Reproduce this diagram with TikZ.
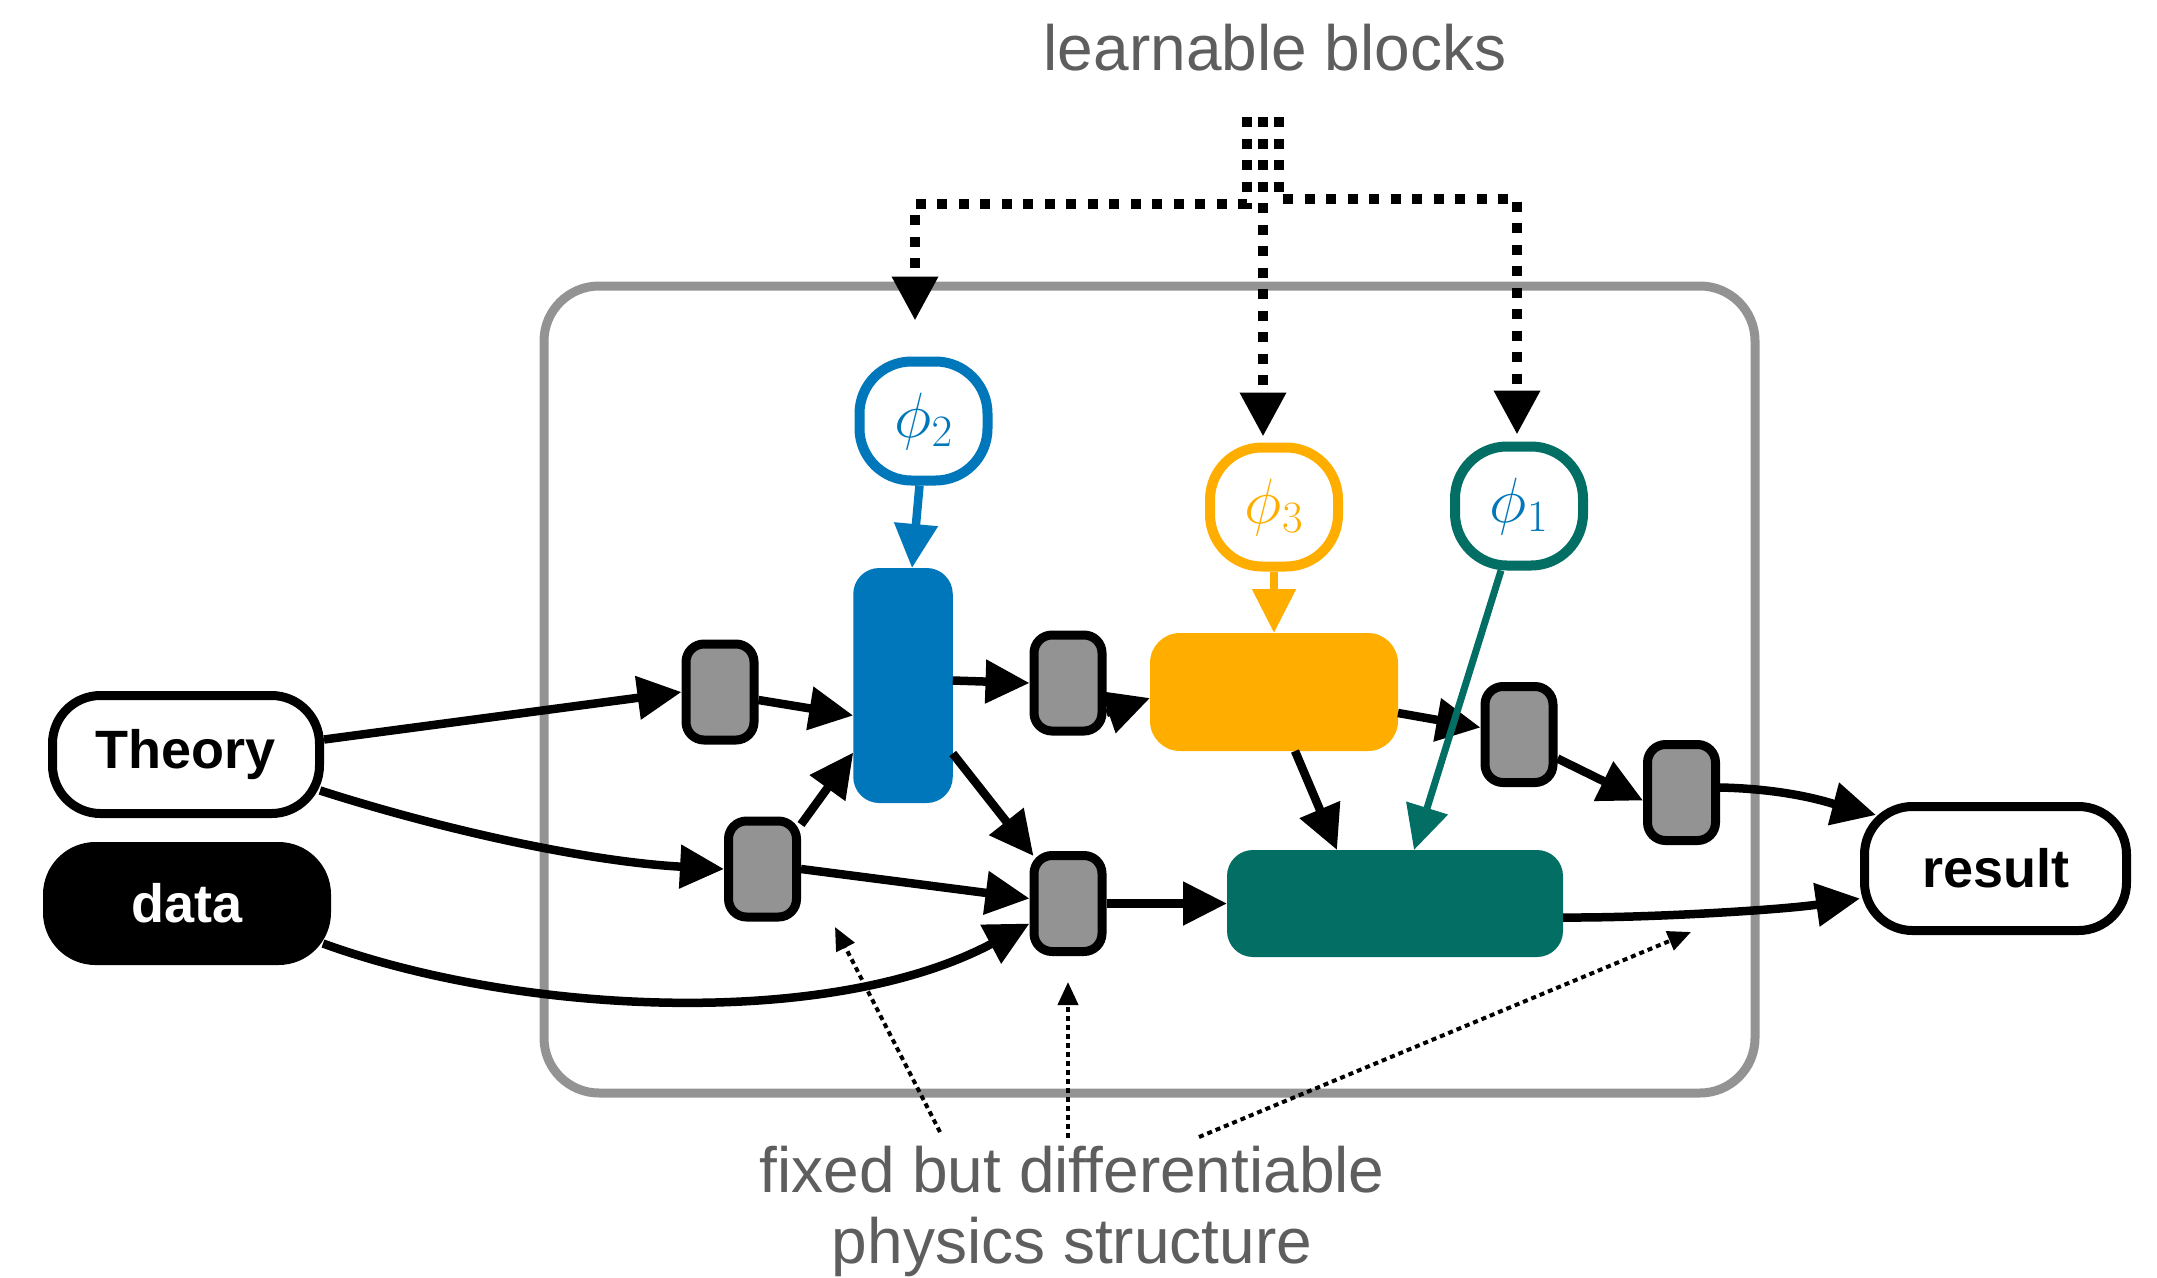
\documentclass[tikz,border=0pt]{standalone}
\usepackage{fix-cm}
\usepackage[no-math]{fontspec}
\setmainfont{Liberation Sans}
\usetikzlibrary{arrows.meta,calc}
\definecolor{phiblue}{HTML}{0077BB}
\definecolor{phiorange}{HTML}{FFAE00}
\definecolor{phiteal}{HTML}{036E64}
\definecolor{boxgray}{HTML}{939393}
\definecolor{labelgray}{HTML}{5E5E5E}
\begin{document}
\begin{tikzpicture}[x=1pt,y=-1pt,
  io/.style={draw=black, line width=9pt, rounded corners=48pt, inner sep=0pt,
    font=\fontsize{54}{60}\selectfont\bfseries},
  gbox/.style={draw=black, fill=boxgray, line width=9pt, rounded corners=18pt,
    minimum width=68pt, minimum height=96pt, inner sep=0pt},
  param/.style={draw=#1, line width=10pt, rounded corners=52pt, minimum width=128pt,
    minimum height=119pt, inner sep=0pt, fill=white, font=\fontsize{64}{72}\selectfont},
  block/.style={fill=#1, rounded corners=26pt, inner sep=0pt, outer sep=0pt},
  flow/.style={line width=8.5pt, -{Triangle[length=44pt,width=42pt]}},
  learn/.style={line width=10pt, dash pattern=on 10pt off 11.5pt,
    -{Triangle[length=44pt,width=44pt]}},
  note/.style={line width=4pt, dash pattern=on 5pt off 4pt,
    -{Triangle[length=23pt,width=20pt]}},
  caption/.style={text=labelgray, font=\fontsize{64}{71}\selectfont, align=center},
]
\useasboundingbox (0,0) rectangle (2157,1277);

% container of the physics structure
\node[draw=boxgray, line width=9pt, rounded corners=55pt, minimum width=1211pt,
  minimum height=807pt, inner sep=0pt] (frame) at (1149.5,689.5) {};

% inputs and output
\node[io, minimum width=267pt, minimum height=118pt] (theory) at (186,754.5) {Theory};
\node[io, fill=black, text=white, minimum width=279pt, minimum height=114pt] (data) at (187,903.5) {data};
\node[io, minimum width=262pt, minimum height=124pt] (result) at (1995.5,868.5) {result};

% learnable blocks
\node[block=phiblue, minimum width=99.5pt, minimum height=235pt] (blue) at (903,685.5) {};
\node[block=phiorange, rounded corners=30pt, minimum width=248pt, minimum height=118pt] (orange) at (1274,692) {};
\node[block=phiteal, minimum width=336pt, minimum height=107pt] (teal) at (1395,903.5) {};

% parameters
\node[param=phiblue, text=phiblue] (phi2) at (923.5,421) {$\phi_2$};
\node[param=phiorange, text=phiorange] (phi3) at (1274,507) {$\phi_3$};
\node[param=phiteal, text=phiblue] (phi1) at (1519,506) {$\phi_1$};

% fixed operations
\node[gbox] (g1) at (720,692) {};
\node[gbox] (g2) at (762.5,869) {};
\node[gbox] (g3) at (1068,683) {};
\node[gbox] (g4) at (1068,903.5) {};
\node[gbox] (g5) at (1519,734.5) {};
\node[gbox] (g6) at (1681.5,792.5) {};

% data flow
\draw[flow] ($(theory.east)+(0,-15)$) -- (g1.west);
\draw[flow] ($(g1.east)+(0,8)$) -- ($(blue.west)+(0,30)$);
\draw[flow] ($(theory.east)+(-4,36)$) .. controls (453,833) and (594,862) .. (g2.west);
\draw[flow] ($(g2.north east)+(0,8)$) -- ($(blue.west)+(0,67)$);
\draw[flow] (g2.east) -- ($(g4.west)+(0,-5)$);
\draw[flow] ($(data.east)+(-8,40)$) .. controls (520,1015) and (830,1030) .. ($(g4.west)+(0,20)$);
\draw[flow] ($(blue.east)+(0,68)$) -- ($(g4.north west)+(4,5)$);
\draw[flow] ($(blue.east)+(0,-5)$) -- (g3.west);
\draw[flow] ($(g3.east)+(0,30)$) -- ($(orange.west)+(0,6)$);
\draw[flow] ($(orange.east)+(0,21)$) -- ($(g5.west)+(0,-7)$);
\draw[flow] ($(orange.south)+(21,0)$) -- ($(teal.north)+(-58,0)$);
\draw[flow] ($(g5.east)+(0,24)$) -- ($(g6.west)+(0,8)$);
\draw[flow] ($(g6.east)+(0,-5)$) .. controls (1790,789) and (1830,803) .. ($(result.north west)+(16,13)$);
\draw[flow] ($(teal.east)+(0,14)$) .. controls (1650,918) and (1780,910) .. ($(result.west)+(0,30)$);
\draw[flow] (g4.east) -- (teal.west);

% parameters feeding their blocks
\draw[flow, phiblue] ($(phi2.south)+(-4,0)$) -- ($(blue.north)+(9,0)$);
\draw[flow, phiorange] (phi3.south) -- (orange.north);
\draw[flow, phiteal, line width=7pt] ($(phi1.south)+(-18,0)$) -- ($(teal.north)+(19,0)$);

% labels
\node[caption, anchor=base] (learnlabel) at (1275,70) {learnable blocks};
\node[caption, anchor=base] (fixedlabel) at (1072,1263) {fixed but differentiable\\physics structure};

% pointers from the "learnable blocks" label
\coordinate (src1) at (1247,117);
\coordinate (src2) at (1263,117);
\coordinate (src3) at (1279,117);
\coordinate (bend2) at (1247,204);
\coordinate (bend1) at (1279,199);
\coordinate (tip2) at ($(phi2.north)+(-8.5,-36)$);
\coordinate (tip3) at ($(phi3.north)+(-11,-6)$);
\coordinate (tip1) at ($(phi1.north)+(-2,-7)$);
\draw[learn] (src1) -- (bend2) -| (tip2);
\draw[learn] (src2) -- (tip3);
\draw[learn] (src3) -- (bend1) -| (tip1);

% pointers from the "fixed but differentiable" label
\coordinate (fix1) at (940,1132);
\coordinate (fix2) at (1068,1138);
\coordinate (fix3) at (1199,1137);
\coordinate (fix1tip) at (835,927);
\coordinate (fix2tip) at (1068,982);
\coordinate (fix3tip) at (1691,932);
\draw[note] (fix1) -- (fix1tip);
\draw[note] (fix2) -- (fix2tip);
\draw[note] (fix3) -- (fix3tip);
\end{tikzpicture}
\end{document}
